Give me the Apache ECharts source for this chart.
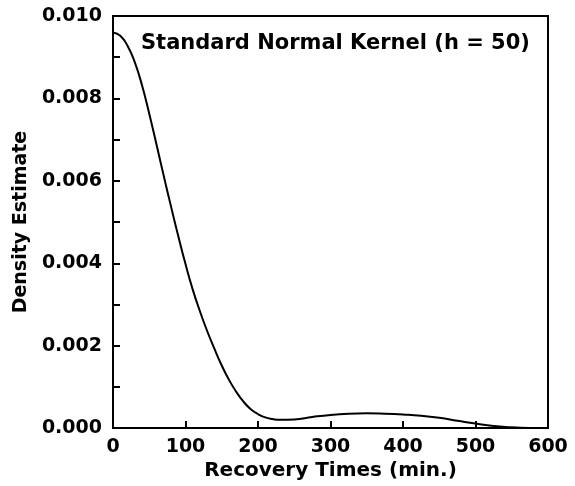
<!DOCTYPE html>
<html>
<head>
<meta charset="utf-8">
<script src="https://cdn.jsdelivr.net/npm/echarts@6/dist/echarts.min.js"></script>
<style>
html, body { margin: 0; padding: 0; background: #fff; }
#main { width: 575px; height: 486px; }
</style>
</head>
<body>
<div id="main"></div>
<script>
// recovery times (min.) and kernel density estimate
var recoveryTimes = [0, 10, 20, 30, 40, 50, 60, 70, 80, 90, 100, 110, 120, 130, 140, 150, 160, 170, 180, 190, 200, 210, 220, 230, 250, 275, 300, 325, 350, 375, 400, 425, 450, 475, 500, 525, 550, 575];
var densityValues = [0.0096, 0.00952, 0.00928, 0.00888, 0.00832, 0.00763, 0.00688, 0.00612, 0.00538, 0.00466, 0.00398, 0.00336, 0.00283, 0.00235, 0.00192, 0.00152, 0.00117, 0.00088, 0.00064, 0.00046, 0.00034, 0.00026, 0.00022, 0.0002, 0.00021, 0.00027, 0.00032, 0.00035, 0.00036, 0.00035, 0.00033, 0.0003, 0.00025, 0.00018, 0.00011, 0.00005, 0.00002, 0.0];
var xTicks = [0, 100, 200, 300, 400, 500, 600];
var yTicks = [0.000, 0.002, 0.004, 0.006, 0.008, 0.010];

var chartTitle = 'Standard Normal Kernel (h = 50)';
var fontFam = '"DejaVu Sans", sans-serif';

var myChart = echarts.init(document.getElementById('main'));

var points = [];
for (var i = 0; i < recoveryTimes.length; i++) {
    points.push([recoveryTimes[i], densityValues[i]]);
}

option = {
    backgroundColor: '#fff',
    animation: false,
    title: {
        text: chartTitle,
        left: 136,
        top: 28,
        textStyle: { fontFamily: fontFam, fontWeight: 'bold', fontSize: 21, color: '#000' }
    },
    grid: {
        left: 113, right: 27, top: 16, bottom: 49,
        show: true, borderColor: '#000', borderWidth: 2
    },
    xAxis: {
        type: 'value',
        min: xTicks[0], max: xTicks[xTicks.length - 1], interval: 100,
        name: 'Recovery Times (min.)',
        nameLocation: 'middle',
        nameGap: 29,
        nameTextStyle: { fontFamily: fontFam, fontWeight: 'bold', fontSize: 20, color: '#000' },
        axisLine: { lineStyle: { color: '#000', width: 2 } },
        axisTick: { inside: true, length: 7, lineStyle: { color: '#000', width: 2 } },
        axisLabel: { margin: 9, fontFamily: fontFam, fontWeight: 'bold', fontSize: 19, color: '#000' },
        splitLine: { show: false }
    },
    yAxis: {
        type: 'value',
        min: yTicks[0], max: yTicks[yTicks.length - 1], interval: 0.002,
        name: 'Density Estimate',
        nameLocation: 'middle',
        nameGap: 81,
        nameTextStyle: { fontFamily: fontFam, fontWeight: 'bold', fontSize: 19, color: '#000' },
        axisLine: { lineStyle: { color: '#000', width: 2 } },
        axisTick: { inside: true, length: 7, lineStyle: { color: '#000', width: 2 } },
        minorTick: { show: true, splitNumber: 2, length: 7, lineStyle: { color: '#000', width: 2 } },
        axisLabel: {
            margin: 11, fontFamily: fontFam, fontWeight: 'bold', fontSize: 19, color: '#000',
            formatter: function (v) { return v.toFixed(3); }
        },
        splitLine: { show: false }
    },
    series: [
        {
            type: 'line',
            data: points,
            smooth: true,
            showSymbol: false,
            lineStyle: { color: '#000', width: 2 }
        }
    ]
};

myChart.setOption(option);
</script>
</body>
</html>
